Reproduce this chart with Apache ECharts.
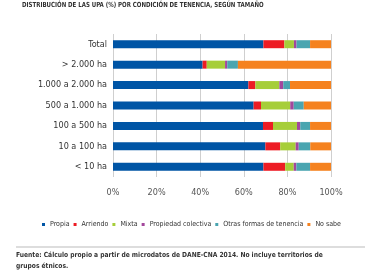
<!DOCTYPE html>
<html>
<head>
<meta charset="utf-8">
<script src="https://cdn.jsdelivr.net/npm/echarts@6/dist/echarts.min.js"></script>
<style>
  html, body { margin: 0; padding: 0; background: #fff; }
  #chart { width: 389px; height: 272px; }
</style>
</head>
<body>
<div id="chart"></div>
<script>
// categorias (de abajo hacia arriba, como las dibuja el eje)
var categories = ['< 10 ha', '10 a 100 ha', '100 a 500 ha', '500 a 1.000 ha', '1.000 a 2.000 ha', '> 2.000 ha', 'Total'];

var propia     = [69.0, 69.9, 68.8, 64.5, 62.1, 41.1, 69.0];
var arriendo   = [10.0, 6.8, 4.6, 3.4, 3.2, 1.9, 9.6];
var mixta      = [3.9, 7.1, 11.0, 13.4, 11.0, 8.4, 4.4];
var colectiva  = [1.2, 1.4, 1.5, 1.6, 1.8, 1.0, 1.2];
var otras      = [6.3, 5.3, 4.5, 4.6, 3.1, 4.9, 6.2];
var noSabe     = [9.6, 9.5, 9.6, 12.5, 18.8, 42.7, 9.6];

var xTicks = [0, 20, 40, 60, 80, 100];

var seriesNames = ['Propia', 'Arriendo', 'Mixta', 'Propiedad colectiva', 'Otras formas de tenencia', 'No sabe'];
var seriesData = [propia, arriendo, mixta, colectiva, otras, noSabe];
var colors = ['#0055a5', '#ed1c24', '#a6ce39', '#a3479c', '#4aa5b0', '#f5821f'];

var chart = echarts.init(document.getElementById('chart'));

var series = seriesNames.map(function (name, i) {
  return {
    name: name,
    type: 'bar',
    stack: 'total',
    barWidth: 8,
    data: seriesData[i],
    itemStyle: { color: colors[i] },
    emphasis: { disabled: true }
  };
});

var option = {
  animation: false,
  color: colors,
  grid: { left: 113, right: 58, top: 34, bottom: 95, containLabel: false },
  xAxis: {
    type: 'value',
    min: xTicks[0],
    max: xTicks[xTicks.length - 1],
    interval: 20,
    axisLine: { show: false },
    axisTick: { show: false },
    splitLine: { show: true, lineStyle: { color: '#cfcfcf', width: 1 } },
    axisLabel: {
      formatter: '{value}%',
      color: '#555',
      fontSize: 9,
      fontFamily: 'DejaVu Sans Condensed',
      margin: 11
    }
  },
  yAxis: {
    type: 'category',
    data: categories,
    axisLine: { show: false },
    axisTick: { show: false },
    axisLabel: {
      color: '#333',
      fontSize: 9,
      fontFamily: 'DejaVu Sans Condensed',
      margin: 6
    }
  },
  legend: {
    left: 37,
    top: 216,
    icon: 'rect',
    itemWidth: 3,
    itemHeight: 3,
    itemGap: 4,
    textStyle: { fontSize: 7, color: '#333', fontFamily: 'DejaVu Sans Condensed' },
    data: seriesNames
  },
  graphic: [
    {
      type: 'text', x: 22, y: 2, scaleX: 0.865,
      style: {
        text: 'DISTRIBUCIÓN DE LAS UPA (%) POR CONDICIÓN DE TENENCIA, SEGÚN TAMAÑO',
        fill: '#333', font: 'bold 7px "DejaVu Sans Condensed"'
      }
    },
    {
      type: 'line',
      shape: { x1: 16, y1: 247, x2: 365, y2: 247 },
      style: { stroke: '#bbb', lineWidth: 1 }
    },
    {
      type: 'text', x: 16, y: 250, scaleX: 0.95,
      style: {
        text: 'Fuente: Cálculo propio a partir de microdatos de DANE-CNA 2014. No incluye territorios de\ngrupos étnicos.',
        fill: '#333', font: 'bold 7px "DejaVu Sans Condensed"', lineHeight: 11
      }
    }
  ],
  series: series
};

chart.setOption(option);
</script>
</body>
</html>
